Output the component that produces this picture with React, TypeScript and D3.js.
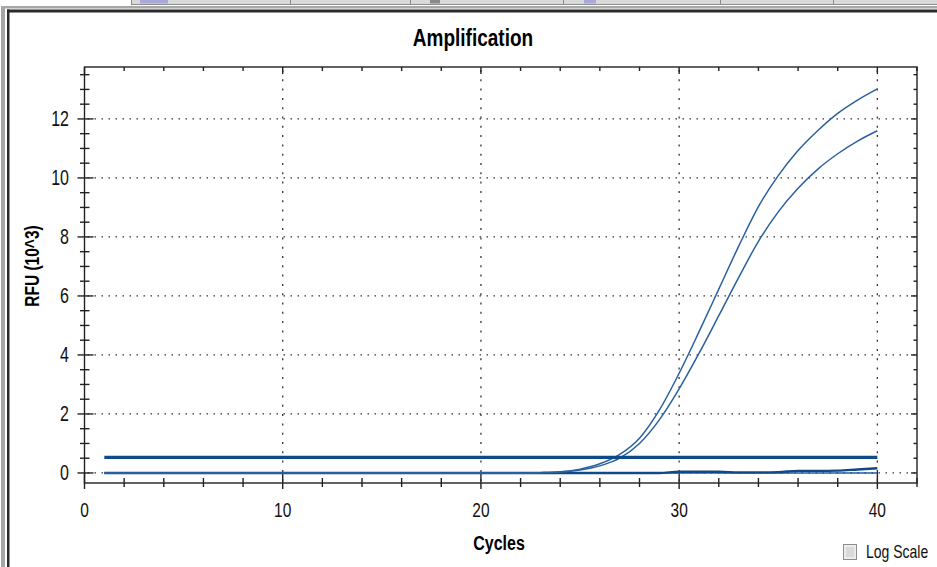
import { useEffect, useRef } from 'react';
import * as d3 from 'd3';

// cycles 1..40
const cycles = d3.range(1, 41);

// two amplifying wells (RFU x10^3)
const wellA = [
  0, 0, 0, 0, 0, 0, 0, 0, 0, 0,
  0, 0, 0, 0, 0, 0, 0, 0, 0, 0,
  0, 0, 0.01, 0.04, 0.13, 0.31, 0.63, 1.18, 2.13, 3.38,
  4.78, 6.23, 7.68, 9.03, 10.08, 10.93, 11.61, 12.19, 12.64, 13.02,
];
const wellB = [
  0, 0, 0, 0, 0, 0, 0, 0, 0, 0,
  0, 0, 0, 0, 0, 0, 0, 0, 0, 0,
  0, 0, 0.01, 0.03, 0.1, 0.24, 0.5, 1.0, 1.8, 2.85,
  4.05, 5.33, 6.62, 7.85, 8.85, 9.65, 10.3, 10.82, 11.25, 11.6,
];
// negative wells
const wellC = [
  0, 0, 0, 0, 0, 0, 0, 0, 0, 0,
  0, 0, 0, 0, 0, 0, 0, 0, 0, 0,
  0, 0, 0, 0, 0, 0, 0, 0, 0, 0.04,
  0.04, 0.04, 0.02, 0.02, 0.03, 0.07, 0.07, 0.08, 0.12, 0.16,
];
const wellD = cycles.map(() => 0);

const threshold = 0.53;

const xTicks = [0, 10, 20, 30, 40];
const yTicks = [0, 2, 4, 6, 8, 10, 12];

export default function App() {
  const svgRef = useRef<SVGSVGElement>(null);
  const width = 937;
  const height = 567;

  useEffect(() => {
    document.body.style.margin = '0';
    document.body.style.overflow = 'hidden';
    if (!svgRef.current) return;

    const svg = d3.select(svgRef.current);
    svg.selectAll('*').remove();

    const font = 'Arial, "Liberation Sans", sans-serif';
    const left = 84.5, right = 917, top = 67, bottom = 483;

    const x = d3.scaleLinear().domain([0, 42]).range([left, right]);
    const y = d3.scaleLinear().domain([-0.34, 13.76]).range([bottom, top]);

    // window chrome
    svg.append('rect').attr('width', width).attr('height', height).attr('fill', '#fff');
    svg.append('rect').attr('x', 131).attr('y', 0).attr('width', 806).attr('height', 4)
      .attr('fill', '#d9d9d9');
    svg.append('line').attr('x1', 131).attr('x2', width).attr('y1', 4.5).attr('y2', 4.5)
      .attr('stroke', '#8c8c8c');
    [131, 290, 410, 563, 720, 833].forEach(sx => {
      svg.append('line').attr('x1', sx + 0.5).attr('x2', sx + 0.5).attr('y1', 0).attr('y2', 4.5)
        .attr('stroke', '#8c8c8c');
    });
    [[140, 28, '#a9a9d8'], [430, 10, '#8a8a8a'], [584, 12, '#a9a9d8']].forEach(([ix, iw, c]) => {
      svg.append('rect').attr('x', ix as number).attr('y', 0).attr('width', iw as number).attr('height', 3.5)
        .attr('fill', c as string);
    });
    svg.append('rect').attr('x', 1).attr('y', 6).attr('width', 4).attr('height', height).attr('fill', '#a6a6a6');
    svg.append('rect').attr('x', 1).attr('y', 6).attr('width', width).attr('height', 2.5).attr('fill', '#a6a6a6');
    svg.append('rect').attr('x', 7).attr('y', 9.5).attr('width', 2.5).attr('height', height).attr('fill', '#2b2b2b');
    svg.append('rect').attr('x', 7).attr('y', 9.5).attr('width', width).attr('height', 3).attr('fill', '#2b2b2b');

    const stretched = (tx: number, ty: number, s: number, rot = 0) =>
      `translate(${tx},${ty})${rot ? ` rotate(${rot})` : ''} scale(1,${s})`;

    // title
    svg.append('text')
      .attr('transform', stretched(473, 45.5, 1.25))
      .attr('text-anchor', 'middle')
      .style('font-family', font).style('font-size', '19px').style('font-weight', 'bold')
      .attr('fill', '#000')
      .text('Amplification');

    const g = svg.append('g');

    // grid
    g.selectAll('.hgrid').data(yTicks).enter().append('line')
      .attr('x1', left + 3).attr('x2', right)
      .attr('y1', d => y(d)).attr('y2', d => y(d))
      .attr('stroke', '#333').attr('stroke-width', 1.3)
      .attr('stroke-dasharray', '1.5,5.5');
    g.selectAll('.vgrid').data(xTicks.filter(d => d > 0)).enter().append('line')
      .attr('x1', d => x(d)).attr('x2', d => x(d))
      .attr('y1', top + 3).attr('y2', bottom)
      .attr('stroke', '#333').attr('stroke-width', 1.3)
      .attr('stroke-dasharray', '2,7.3');

    // frame
    g.append('rect').attr('x', left).attr('y', top).attr('width', right - left).attr('height', bottom - top)
      .attr('fill', 'none').attr('stroke', '#222').attr('stroke-width', 1.4);

    // x ticks (bottom crosses axis, top points in)
    const xMinor = d3.range(0, 42.01, 2);
    g.selectAll('.xt').data(xMinor).enter().append('line')
      .attr('x1', d => x(d)).attr('x2', d => x(d))
      .attr('y1', d => d % 10 === 0 ? bottom - 11 : bottom - 5)
      .attr('y2', d => d % 10 === 0 ? bottom + 6 : bottom + 4)
      .attr('stroke', '#222').attr('stroke-width', 1.4);
    g.selectAll('.xtt').data(xMinor).enter().append('line')
      .attr('x1', d => x(d)).attr('x2', d => x(d))
      .attr('y1', top).attr('y2', d => d % 10 === 0 ? top + 7 : top + 4)
      .attr('stroke', '#222').attr('stroke-width', 1.4);

    // y ticks
    const yMinor = d3.range(0, 13.76, 0.5);
    g.selectAll('.yt').data(yMinor).enter().append('line')
      .attr('y1', d => y(d)).attr('y2', d => y(d))
      .attr('x1', d => d % 2 === 0 ? left - 7 : left - 4.5)
      .attr('x2', d => d % 2 === 0 ? left + 9 : left + 5)
      .attr('stroke', '#222').attr('stroke-width', 1.4);
    g.selectAll('.ytr').data(yMinor).enter().append('line')
      .attr('y1', d => y(d)).attr('y2', d => y(d))
      .attr('x1', d => d % 2 === 0 ? right - 6 : right - 3.5).attr('x2', right)
      .attr('stroke', '#222').attr('stroke-width', 1.4);

    // tick labels
    g.selectAll('.xl').data(xTicks).enter().append('text')
      .attr('transform', d => stretched(x(d), 517, 1.35))
      .attr('text-anchor', 'middle')
      .style('font-family', font).style('font-size', '15.5px')
      .attr('fill', '#111')
      .text(d => d);
    g.selectAll('.yl').data(yTicks).enter().append('text')
      .attr('transform', d => stretched(69, y(d) + 7.5, 1.35))
      .attr('text-anchor', 'end')
      .style('font-family', font).style('font-size', '16px')
      .attr('fill', '#111')
      .text(d => d);

    // axis titles
    svg.append('text')
      .attr('transform', stretched(499, 549.5, 1.3))
      .attr('text-anchor', 'middle')
      .style('font-family', font).style('font-size', '16px').style('font-weight', 'bold')
      .text('Cycles');
    svg.append('text')
      .attr('transform', stretched(39, 266, 1.3, -90))
      .attr('text-anchor', 'middle')
      .style('font-family', font).style('font-size', '15.5px').style('font-weight', 'bold')
      .text('RFU (10^3)');

    // data
    const line = d3.line<number>()
      .x((_, i) => x(cycles[i]))
      .y(d => y(d))
      .curve(d3.curveMonotoneX);

    g.append('path').attr('d', line(wellD)).attr('fill', 'none')
      .attr('stroke', '#1f5c9c').attr('stroke-width', 1.6);
    g.append('path').attr('d', line(wellC)).attr('fill', 'none')
      .attr('stroke', '#10498a').attr('stroke-width', 2.4);
    g.append('path').attr('d', line(wellB)).attr('fill', 'none')
      .attr('stroke', '#2a609e').attr('stroke-width', 1.5);
    g.append('path').attr('d', line(wellA)).attr('fill', 'none')
      .attr('stroke', '#2a609e').attr('stroke-width', 1.5);

    g.append('line')
      .attr('x1', x(1)).attr('x2', x(40))
      .attr('y1', y(threshold)).attr('y2', y(threshold))
      .attr('stroke', '#0e4a8a').attr('stroke-width', 3.2);

    // log scale checkbox
    svg.append('rect').attr('x', 843.5).attr('y', 544.5).attr('width', 13).attr('height', 15)
      .attr('fill', '#ececec').attr('stroke', '#8d8d8d');
    svg.append('rect').attr('x', 846).attr('y', 547).attr('width', 8).attr('height', 10)
      .attr('fill', '#d9d9d9');
    svg.append('text')
      .attr('transform', stretched(866, 557.5, 1.3))
      .style('font-family', font).style('font-size', '14px')
      .attr('fill', '#111')
      .text('Log Scale');
  }, []);

  return (
    <svg
      ref={svgRef}
      width={width}
      height={height}
      style={{ position: 'absolute', left: 0, top: 0, display: 'block' }}
    />
  );
}
